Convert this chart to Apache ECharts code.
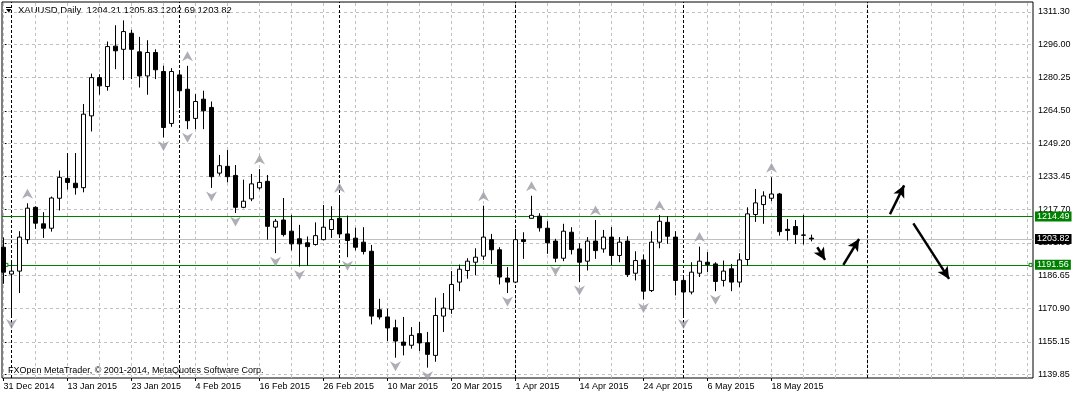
<!DOCTYPE html>
<html><head><meta charset="utf-8">
<script src="https://cdn.jsdelivr.net/npm/echarts@6/dist/echarts.min.js"></script>
<style>html,body{margin:0;padding:0;background:#fff}#c{width:1076px;height:396px}</style>
</head><body><div id="c"></div>
<script>
// ---------- data ----------
const symbolName = 'XAUUSD,Daily';
const dates = ["31 Dec 2014","2 Jan 2015","5 Jan 2015","6 Jan 2015","7 Jan 2015","8 Jan 2015","9 Jan 2015","12 Jan 2015","13 Jan 2015","14 Jan 2015","15 Jan 2015","16 Jan 2015","19 Jan 2015","20 Jan 2015","21 Jan 2015","22 Jan 2015","23 Jan 2015","26 Jan 2015","27 Jan 2015","28 Jan 2015","29 Jan 2015","30 Jan 2015","2 Feb 2015","3 Feb 2015","4 Feb 2015","5 Feb 2015","6 Feb 2015","9 Feb 2015","10 Feb 2015","11 Feb 2015","12 Feb 2015","13 Feb 2015","16 Feb 2015","17 Feb 2015","18 Feb 2015","19 Feb 2015","20 Feb 2015","23 Feb 2015","24 Feb 2015","25 Feb 2015","26 Feb 2015","27 Feb 2015","2 Mar 2015","3 Mar 2015","4 Mar 2015","5 Mar 2015","6 Mar 2015","9 Mar 2015","10 Mar 2015","11 Mar 2015","12 Mar 2015","13 Mar 2015","16 Mar 2015","17 Mar 2015","18 Mar 2015","19 Mar 2015","20 Mar 2015","23 Mar 2015","24 Mar 2015","25 Mar 2015","26 Mar 2015","27 Mar 2015","30 Mar 2015","31 Mar 2015","1 Apr 2015","2 Apr 2015","6 Apr 2015","7 Apr 2015","8 Apr 2015","9 Apr 2015","10 Apr 2015","13 Apr 2015","14 Apr 2015","15 Apr 2015","16 Apr 2015","17 Apr 2015","20 Apr 2015","21 Apr 2015","22 Apr 2015","23 Apr 2015","24 Apr 2015","27 Apr 2015","28 Apr 2015","29 Apr 2015","30 Apr 2015","1 May 2015","4 May 2015","5 May 2015","6 May 2015","7 May 2015","8 May 2015","11 May 2015","12 May 2015","13 May 2015","14 May 2015","15 May 2015","18 May 2015","19 May 2015","20 May 2015","21 May 2015","22 May 2015","25 May 2015"];
const opens  = [1199.9,1187.2,1188.6,1203.5,1218.8,1211.0,1208.9,1223.1,1232.5,1230.2,1228.1,1262.1,1280.2,1276.0,1295.1,1293.6,1301.2,1292.4,1281.0,1292.1,1283.1,1258.5,1281.5,1274.7,1260.9,1270.0,1266.1,1235.0,1238.2,1233.9,1218.8,1222.8,1228.0,1231.1,1209.4,1212.8,1207.5,1203.9,1202.0,1201.2,1203.5,1208.3,1213.6,1206.2,1204.2,1202.3,1198.0,1170.3,1166.9,1161.8,1155.0,1153.5,1159.0,1154.7,1148.7,1167.3,1170.5,1183.4,1188.9,1192.8,1195.7,1203.5,1198.7,1185.3,1183.4,1203.5,1213.6,1214.6,1208.9,1202.8,1194.7,1207.0,1199.1,1193.3,1202.8,1199.1,1204.7,1196.0,1202.8,1187.6,1193.9,1179.4,1202.3,1211.7,1204.7,1184.2,1178.7,1187.6,1192.8,1192.0,1184.2,1189.7,1183.4,1194.1,1215.4,1220.1,1223.1,1225.1,1208.4,1209.7,1205.7,1204.21];
const highs  = [1204.5,1193.6,1207.5,1220.7,1219.3,1216.5,1223.9,1236.2,1244.5,1244.5,1267.7,1282.1,1281.8,1297.3,1305.0,1307.3,1302.8,1299.5,1297.9,1293.6,1285.8,1284.7,1283.4,1285.8,1272.4,1274.0,1268.9,1243.6,1245.9,1238.8,1231.9,1234.6,1236.9,1234.1,1213.3,1223.2,1215.2,1210.5,1205.0,1211.7,1219.9,1219.3,1223.6,1214.9,1209.1,1209.4,1201.0,1175.5,1170.8,1165.6,1166.9,1162.1,1164.5,1159.8,1176.0,1178.2,1188.6,1191.7,1194.7,1199.4,1219.6,1206.2,1199.9,1190.5,1208.6,1207.0,1224.3,1216.0,1212.2,1203.9,1211.0,1209.4,1201.8,1204.7,1212.8,1208.1,1209.4,1204.7,1205.1,1198.0,1196.5,1207.5,1215.2,1214.6,1207.5,1185.8,1192.8,1200.2,1197.6,1192.8,1193.6,1192.0,1197.1,1218.8,1227.5,1226.4,1233.0,1225.6,1213.3,1212.8,1215.2,1205.83];
const lows   = [1182.6,1167.6,1178.2,1201.5,1208.6,1204.3,1207.3,1217.3,1227.2,1224.8,1225.9,1254.7,1272.1,1274.0,1284.2,1279.1,1279.5,1275.5,1272.1,1279.5,1251.9,1256.9,1266.1,1255.8,1255.8,1255.8,1228.0,1233.8,1230.6,1216.1,1218.4,1221.7,1227.2,1203.5,1197.1,1205.0,1198.4,1190.8,1191.3,1200.7,1203.1,1204.3,1205.0,1195.2,1198.4,1196.5,1163.4,1165.7,1155.5,1147.6,1148.7,1151.9,1150.8,1142.9,1145.7,1159.8,1168.4,1179.1,1185.0,1186.6,1193.9,1192.0,1182.3,1178.2,1182.9,1194.4,1213.5,1207.3,1196.8,1192.8,1193.3,1196.5,1183.4,1188.9,1194.4,1197.3,1191.3,1192.8,1185.8,1184.2,1175.2,1178.7,1199.4,1201.5,1177.1,1167.6,1177.6,1185.8,1188.1,1179.1,1181.3,1179.1,1181.0,1191.3,1211.9,1211.0,1221.7,1205.4,1203.1,1201.5,1201.2,1202.69];
const closes = [1188.1,1188.6,1204.7,1218.4,1211.3,1208.9,1223.2,1233.0,1230.6,1228.1,1262.9,1280.2,1276.3,1294.9,1292.9,1302.0,1293.6,1281.0,1292.1,1283.9,1256.6,1283.1,1274.0,1259.8,1268.9,1264.5,1233.3,1238.5,1233.3,1218.8,1221.7,1229.9,1230.6,1209.8,1212.2,1205.9,1201.5,1201.5,1200.2,1205.4,1209.4,1213.0,1206.2,1203.1,1199.9,1197.9,1167.3,1166.9,1161.7,1155.5,1153.5,1158.2,1154.6,1149.2,1167.6,1171.1,1182.3,1189.5,1193.3,1195.2,1204.7,1198.7,1185.8,1183.4,1203.5,1202.6,1215.0,1209.1,1202.0,1194.7,1207.5,1198.8,1192.8,1202.8,1198.3,1204.7,1196.0,1202.3,1187.0,1193.6,1179.1,1202.3,1212.2,1205.1,1184.2,1178.7,1188.1,1193.3,1191.7,1183.7,1188.6,1183.4,1193.9,1215.7,1220.9,1224.2,1225.1,1207.3,1207.8,1205.9,1205.6,1203.82];
const upFractals   = [3,23,32,42,60,66,74,82,87,96];
const downFractals = [1,20,23,26,29,34,37,43,49,53,63,69,72,80,85,89];
const monthStarts  = [1,22,42,64,85,108];
const yTicks = [1139.85,1155.15,1170.90,1186.65,1201.95,1217.70,1233.45,1249.20,1264.50,1280.25,1296.00,1311.30];
const greenLevels = [1214.49,1191.56];
const bidLevel = 1203.82;
// hand-drawn arrows (bar index, price)
const arrowX0 = [101.73,104.98,110.81,113.73];
const arrowY0 = [1199.9,1191.6,1215.5,1211.2];
const arrowX1 = [102.7,106.95,112.58,118.2];
const arrowY1 = [1193.9,1203.8,1229.2,1184.9];

// ---------- chart ----------
const FONT = '"Liberation Sans", Arial, sans-serif';
const n = dates.length;
const xMin = -0.1875, xMax = 128.6875;
const candles = dates.map((d, i) => [i, opens[i], closes[i], lows[i], highs[i]]);
const gridX = []; for (let v = 0; v <= 128; v += 4) gridX.push(v);
const xTickIdx = []; for (let v = 0; v < n; v += 8) xTickIdx.push(v);
const last = n - 1;
const GREEN = '#008000';

const chart = echarts.init(document.getElementById('c'));
chart.setOption({
  animation: false,
  backgroundColor: '#fff',
  grid: { left: 2, right: 43, top: 2, bottom: 18, show: true, borderColor: '#000', borderWidth: 1, backgroundColor: 'transparent' },
  xAxis: {
    type: 'value', min: xMin, max: xMax,
    axisLine: { show: false },
    splitLine: { show: false },
    axisTick: { show: true, customValues: xTickIdx, length: 3, lineStyle: { color: '#000' } },
    axisLabel: { customValues: xTickIdx, formatter: v => dates[Math.round(v)] || '', align: 'left', margin: 4,
      fontSize: 9, fontFamily: FONT, color: '#000' }
  },
  yAxis: {
    type: 'value', min: 1138, max: 1316, position: 'right', scale: true,
    axisLine: { show: false },
    splitLine: { show: false },
    axisTick: { show: true, customValues: yTicks, length: 3, lineStyle: { color: '#000' } },
    axisLabel: { customValues: yTicks, formatter: v => v.toFixed(2), margin: 5, fontSize: 9, fontFamily: FONT, color: '#000' }
  },
  graphic: [
    { type: 'polygon', shape: { points: [[6, 9], [11.5, 9], [8.75, 12.5]] }, style: { fill: '#000' }, silent: true },
    { type: 'line', shape: { x1: 6, y1: 7.5, x2: 11.5, y2: 7.5 }, style: { stroke: '#000', lineWidth: 1 }, silent: true },
    { type: 'text', x: 18, y: 5, style: { text: symbolName + '  ' + [opens[last], highs[last], lows[last], closes[last]].map(v => v.toFixed(2)).join(' '),
      font: '9.5px ' + FONT, fill: '#000' }, silent: true },
    { type: 'text', x: 8, y: 366, style: { text: 'FXOpen MetaTrader, \u00a9 2001-2014, MetaQuotes Software Corp.', font: '9px ' + FONT, fill: '#000' }, silent: true }
  ],
  series: [
    { // grid lines
      type: 'line', data: [], z: 1, silent: true,
      markLine: {
        silent: true, symbol: 'none', animation: false, label: { show: false },
        lineStyle: { color: '#c0c0c0', width: 1, type: [3, 3] },
        data: yTicks.map(v => ({ yAxis: v })).concat(gridX.map(v => ({ xAxis: v })))
      }
    },
    { // month separators
      type: 'line', data: [], z: 2, silent: true,
      markLine: {
        silent: true, symbol: 'none', animation: false, label: { show: false },
        lineStyle: { color: '#000', width: 1, type: [3, 2] },
        data: monthStarts.map(v => ({ xAxis: v }))
      }
    },
    { // bid line
      type: 'line', data: [], z: 3, silent: true,
      markLine: {
        silent: true, symbol: 'none', animation: false,
        lineStyle: { color: '#c0c0c0', width: 1, type: 'solid' },
        label: { show: true, position: 'end', distance: 2, fontSize: 9, fontFamily: FONT, color: '#fff', backgroundColor: '#000',
          padding: [1, 2, 0, 2], lineHeight: 9, formatter: p => p.value.toFixed(2) },
        data: [{ yAxis: bidLevel }]
      }
    },
    { // green levels
      type: 'line', data: [], z: 4, silent: true, color: GREEN,
      markLine: {
        silent: true, symbol: 'none', animation: false,
        lineStyle: { color: GREEN, width: 1, type: 'solid', opacity: 1 },
        label: { show: true, position: 'end', distance: 2, fontSize: 9, fontFamily: FONT, color: '#fff', backgroundColor: GREEN,
          padding: [1, 2, 0, 2], lineHeight: 9, formatter: p => p.value.toFixed(2) },
        data: greenLevels.map(v => ({ yAxis: v }))
      },
      markPoint: {
        silent: true, symbol: 'rect', symbolSize: 3, animation: false, label: { show: false },
        itemStyle: { color: '#fff', borderColor: GREEN, borderWidth: 1 },
        data: [{ coord: [xMin + 0.55, greenLevels[1]] }, { coord: [xMax - 0.3, greenLevels[1]] }]
      }
    },
    {
      type: 'candlestick', z: 5, data: candles, barWidth: 4, silent: true,
      itemStyle: { color: '#fff', color0: '#000', borderColor: '#000', borderColor0: '#000', borderColorDoji: '#000', borderWidth: 1 }
    },
    {
      type: 'scatter', z: 6, silent: true,
      symbol: 'path://M5,0L10,10L5,7L0,10Z', symbolSize: [11, 10], symbolOffset: [0, -9.5],
      itemStyle: { color: '#9a9aa2' },
      data: upFractals.map(i => [i, highs[i]])
    },
    {
      type: 'scatter', z: 6, silent: true,
      symbol: 'path://M0,0L5,3L10,0L5,10Z', symbolSize: [11, 10], symbolOffset: [0, 8.5],
      itemStyle: { color: '#9a9aa2' },
      data: downFractals.map(i => [i, lows[i]])
    },
    { // arrows
      type: 'line', data: [], z: 7, silent: true,
      markLine: {
        silent: true, symbol: ['none', 'arrow'], symbolSize: [9, 12], animation: false, label: { show: false },
        lineStyle: { color: '#000', width: 2.5, type: 'solid' },
        data: arrowX0.map((x, k) => [{ coord: [x, arrowY0[k]] }, { coord: [arrowX1[k], arrowY1[k]] }])
      }
    }
  ]
});
</script></body></html>
